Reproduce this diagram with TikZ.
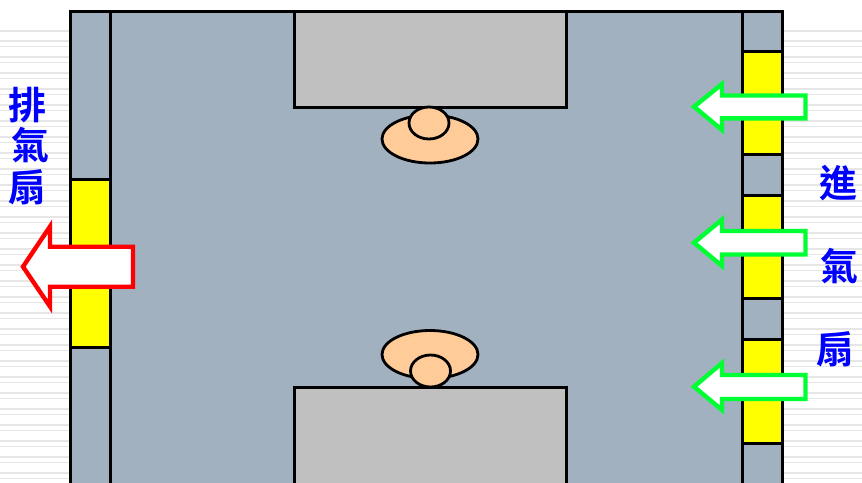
\documentclass[tikz,border=0pt]{standalone}
\usepackage{fontspec}
\newfontfamily\cjkfont{Noto Sans CJK TC}[BoldFont={* Bold}]
\definecolor{roomblue}{HTML}{A2B1C0}
\definecolor{tablegray}{HTML}{C0C0C0}
\definecolor{skin}{HTML}{FFCC99}
\definecolor{stripe}{HTML}{E6E6E6}
\definecolor{fanyellow}{HTML}{FFFF00}
\definecolor{labelblue}{HTML}{0000FF}
\definecolor{ingreen}{HTML}{00FF33}
\tikzset{
  x=1pt,y=-1pt,
  wall/.style={draw=black,line width=3pt,fill=roomblue},
  fanbox/.style={draw=black,line width=3pt,fill=fanyellow},
  desk/.style={draw=black,line width=3pt,fill=tablegray},
  person/.style={draw=black,line width=2.8pt,fill=skin},
  inarrow/.style={draw=ingreen,line width=4.4pt,fill=white,miter limit=10},
  outarrow/.style={draw=red,line width=4.4pt,fill=white,miter limit=10},
  hanzi/.style={text=labelblue,font=\cjkfont\bfseries\fontsize{38}{38}\selectfont,inner sep=0pt,anchor=center},
  stripeline/.style={draw=stripe,line width=1.8pt}
}
\begin{document}
\begin{tikzpicture}
\useasboundingbox (0,0) rectangle (862,482);
\clip (0,0) rectangle (862,482);
\fill[white] (0,0) rectangle (862,482);
\draw[stripeline] (0,30.7) -- (862,30.7);
\foreach \k in {0,...,27}{
  \draw[stripeline] (0,{40.7+16*\k}) -- (862,{40.7+16*\k});
  \draw[stripeline] (0,{46.5+16*\k}) -- (862,{46.5+16*\k});
}
% room and walls
\draw[wall] (70,11) rectangle (782,490);
\draw[wall] (110,11) rectangle (742,490);
% fans
\draw[fanbox] (70,179) rectangle (110,347);
\draw[fanbox] (742,51) rectangle (782,154.5);
\draw[fanbox] (742,195) rectangle (782,298.5);
\draw[fanbox] (742,339) rectangle (782,443);
% desks
\draw[desk] (294,11) rectangle (566,107);
\draw[desk] (294,387) rectangle (566,490);
% people
\draw[person] (430,139) ellipse [x radius=48,y radius=24];
\draw[person] (429,123) ellipse [x radius=20,y radius=16];
\draw[person] (430,354.5) ellipse [x radius=48,y radius=24];
\draw[person] (430.5,371) ellipse [x radius=20,y radius=16];
% arrows
\draw[outarrow] (23,266.7) -- (50,226.5) -- (50,246.7) -- (133,246.7) -- (133,286.7) -- (50,286.7) -- (50,306.5) -- cycle;
\draw[inarrow] (694,106.7) -- (722,84) -- (722,95.5) -- (805.5,95.5) -- (805.5,118.3) -- (722,118.3) -- (722,130) -- cycle;
\draw[inarrow] (694,242.7) -- (722,219.5) -- (722,231) -- (805.5,231) -- (805.5,254.5) -- (722,254.5) -- (722,266) -- cycle;
\draw[inarrow] (694,386.7) -- (722,363) -- (722,375) -- (805.5,375) -- (805.5,399) -- (722,399) -- (722,410) -- cycle;
% labels
\node[hanzi] (outa) at (28,105) {排};
\node[hanzi] (outb) at (30,145) {氣};
\node[hanzi] (outc) at (28,187) {扇};
\node[hanzi] (ina) at (838,183) {進};
\node[hanzi] (inb) at (839,266) {氣};
\node[hanzi] (inc) at (835,349) {扇};
\end{tikzpicture}
\end{document}
